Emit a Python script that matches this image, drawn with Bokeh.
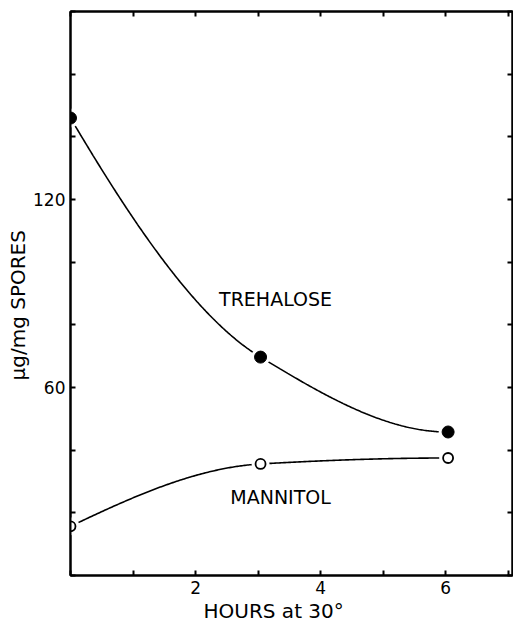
import numpy as np
from bokeh.plotting import figure
from bokeh.models import LinearAxis, FixedTicker, Label, Range1d, Title
from bokeh.embed import file_html
from bokeh.resources import INLINE

# ---- data ----
hours = [0.0, 3.04, 6.04]
trehalose = [146.0, 69.7, 45.8]
mannitol = [15.7, 35.6, 37.5]

x_ticks = [0, 1, 2, 3, 4, 5, 6, 7]
x_tick_labels = {2: "2", 4: "4", 6: "6"}
y_ticks = [0, 20, 40, 60, 80, 100, 120, 140, 160, 180]
y_tick_labels = {60: "60", 120: "120"}

FONT = "DejaVu Sans"


def pchip(x, y, xs):
    """Monotone cubic Hermite curve through the measured points."""
    x = np.asarray(x, float)
    y = np.asarray(y, float)
    h = np.diff(x)
    d = np.diff(y) / h
    n = len(x)
    m = np.zeros(n)
    for k in range(1, n - 1):
        if d[k - 1] * d[k] > 0:
            w1 = 2 * h[k] + h[k - 1]
            w2 = h[k] + 2 * h[k - 1]
            m[k] = (w1 + w2) / (w1 / d[k - 1] + w2 / d[k])
    m0 = ((2 * h[0] + h[1]) * d[0] - h[0] * d[1]) / (h[0] + h[1])
    m[0] = m0 if m0 * d[0] > 0 else 0.0
    mn = ((2 * h[-1] + h[-2]) * d[-1] - h[-1] * d[-2]) / (h[-1] + h[-2])
    m[-1] = mn if mn * d[-1] > 0 else 0.0
    idx = np.clip(np.searchsorted(x, xs) - 1, 0, n - 2)
    t = (xs - x[idx]) / h[idx]
    h00 = 2 * t**3 - 3 * t**2 + 1
    h10 = t**3 - 2 * t**2 + t
    h01 = -2 * t**3 + 3 * t**2
    h11 = t**3 - t**2
    return h00 * y[idx] + h10 * h[idx] * m[idx] + h01 * y[idx + 1] + h11 * h[idx] * m[idx + 1]


p = figure(width=513, height=622, x_range=Range1d(0, 7.07), y_range=Range1d(0, 180),
           output_backend="svg", toolbar_location=None,
           min_border_left=70, min_border_right=1, min_border_top=11, min_border_bottom=45)
p.grid.visible = False
p.outline_line_color = "black"
p.outline_line_width = 2
p.background_fill_color = "white"
p.border_fill_color = "white"


def style_axis(ax, ticks, labels, show_labels=True):
    ax.ticker = FixedTicker(ticks=ticks)
    ax.major_label_overrides = {t: labels.get(t, "") for t in ticks}
    ax.major_tick_in = 5
    ax.major_tick_out = 0
    ax.minor_tick_in = 0
    ax.minor_tick_out = 0
    ax.axis_line_width = 2
    ax.axis_line_color = "black"
    ax.major_tick_line_width = 2
    ax.major_tick_line_color = "black"
    ax.major_label_text_font = FONT
    ax.major_label_text_color = "black"
    if show_labels:
        ax.major_label_text_font_size = "17px"
        ax.major_label_standoff = 5
    else:
        ax.major_label_text_font_size = "0px"
        ax.major_label_standoff = 0


style_axis(p.xaxis[0], x_ticks, x_tick_labels)
style_axis(p.yaxis[0], y_ticks, y_tick_labels)
p.yaxis[0].major_label_orientation = "horizontal"

top = LinearAxis()
style_axis(top, x_ticks, {}, show_labels=False)
p.add_layout(top, "above")
right = LinearAxis()
style_axis(right, y_ticks, {}, show_labels=False)
p.add_layout(right, "right")

# smooth curves through the points
xs = np.linspace(hours[0], hours[-1], 300)
p.line(xs, pchip(hours, trehalose, xs), line_color="black", line_width=1.6)
p.line(xs, pchip(hours, mannitol, xs), line_color="black", line_width=1.6)

# white halos to leave small gaps around the markers
p.scatter(hours, trehalose, size=19, marker="circle", fill_color="white", line_color=None)
p.scatter(hours, mannitol, size=18, marker="circle", fill_color="white", line_color=None)
p.scatter(hours, trehalose, size=12, marker="circle", fill_color="black", line_color="black")
p.scatter(hours, mannitol, size=10, marker="circle", fill_color="white", line_color="black", line_width=1.8)

# series labels
p.add_layout(Label(x=3.28, y=88.4, text="TREHALOSE", text_font=FONT, text_font_size="19px",
                   text_align="center", text_baseline="middle", text_color="black"))
p.add_layout(Label(x=3.36, y=25.1, text="MANNITOL", text_font=FONT, text_font_size="19px",
                   text_align="center", text_baseline="middle", text_color="black"))

# axis titles
xt = Title(text="HOURS at 30°", align="left", offset=133, standoff=0,
           text_font=FONT, text_font_size="20px", text_font_style="normal", text_color="black")
p.add_layout(xt, "below")
yt = Title(text="μg/mg SPORES", align="left", offset=195, standoff=2,
           text_font=FONT, text_font_size="20px", text_font_style="normal", text_color="black")
p.add_layout(yt, "left")

open("out.html", "w").write(file_html(p, INLINE))
